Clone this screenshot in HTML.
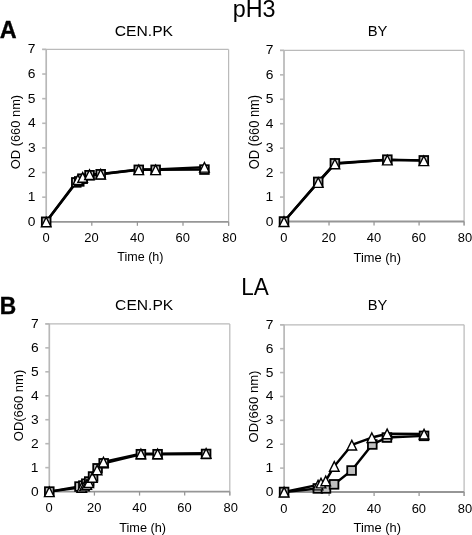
<!DOCTYPE html>
<html><head><meta charset="utf-8"><style>
html,body{margin:0;padding:0;background:#fff;}
svg{display:block;will-change:transform;}
text{font-family:"Liberation Sans", sans-serif;fill:#000;}
</style></head><body>
<svg width="472" height="535" viewBox="0 0 472 535">
<rect width="472" height="535" fill="#fff"/>
<g><line x1="42.20" y1="49.40" x2="228.60" y2="49.40" stroke="#bababa" stroke-width="1.25"/>
<line x1="228.60" y1="49.40" x2="228.60" y2="225.80" stroke="#bababa" stroke-width="1.25"/>
<line x1="46.20" y1="49.40" x2="46.20" y2="221.80" stroke="#b8b8b8" stroke-width="1.7"/>
<line x1="42.20" y1="221.80" x2="46.20" y2="221.80" stroke="#b8b8b8" stroke-width="1.6"/>
<text transform="translate(27.870,225.823) scale(0.13802,0.13400)" font-size="100" font-weight="normal">0</text>
<line x1="42.20" y1="197.17" x2="46.20" y2="197.17" stroke="#b8b8b8" stroke-width="1.6"/>
<text transform="translate(27.697,201.194) scale(0.13802,0.13400)" font-size="100" font-weight="normal">1</text>
<line x1="42.20" y1="172.54" x2="46.20" y2="172.54" stroke="#b8b8b8" stroke-width="1.6"/>
<text transform="translate(27.870,176.633) scale(0.13802,0.13400)" font-size="100" font-weight="normal">2</text>
<line x1="42.20" y1="147.91" x2="46.20" y2="147.91" stroke="#b8b8b8" stroke-width="1.6"/>
<text transform="translate(27.904,151.937) scale(0.13802,0.13400)" font-size="100" font-weight="normal">3</text>
<line x1="42.20" y1="123.29" x2="46.20" y2="123.29" stroke="#b8b8b8" stroke-width="1.6"/>
<text transform="translate(27.904,127.309) scale(0.13802,0.13400)" font-size="100" font-weight="normal">4</text>
<line x1="42.20" y1="98.66" x2="46.20" y2="98.66" stroke="#b8b8b8" stroke-width="1.6"/>
<text transform="translate(27.870,102.613) scale(0.13802,0.13400)" font-size="100" font-weight="normal">5</text>
<line x1="42.20" y1="74.03" x2="46.20" y2="74.03" stroke="#b8b8b8" stroke-width="1.6"/>
<text transform="translate(27.835,78.052) scale(0.13802,0.13400)" font-size="100" font-weight="normal">6</text>
<line x1="42.20" y1="49.40" x2="46.20" y2="49.40" stroke="#b8b8b8" stroke-width="1.6"/>
<text transform="translate(27.870,53.423) scale(0.13802,0.13400)" font-size="100" font-weight="normal">7</text>
<line x1="46.20" y1="221.80" x2="228.60" y2="221.80" stroke="#969696" stroke-width="1.8"/>
<line x1="46.20" y1="221.80" x2="46.20" y2="225.80" stroke="#969696" stroke-width="1.25"/>
<text transform="translate(42.416,241.694) scale(0.12915,0.12300)" font-size="100" font-weight="normal">0</text>
<line x1="91.80" y1="221.80" x2="91.80" y2="225.80" stroke="#969696" stroke-width="1.25"/>
<text transform="translate(84.335,241.694) scale(0.12915,0.12300)" font-size="100" font-weight="normal">20</text>
<line x1="137.40" y1="221.80" x2="137.40" y2="225.80" stroke="#969696" stroke-width="1.25"/>
<text transform="translate(130.097,241.694) scale(0.12915,0.12300)" font-size="100" font-weight="normal">40</text>
<line x1="183.00" y1="221.80" x2="183.00" y2="225.80" stroke="#969696" stroke-width="1.25"/>
<text transform="translate(175.535,241.694) scale(0.12915,0.12300)" font-size="100" font-weight="normal">60</text>
<line x1="228.60" y1="221.80" x2="228.60" y2="225.80" stroke="#969696" stroke-width="1.25"/>
<text transform="translate(222.268,241.694) scale(0.12915,0.12300)" font-size="100" font-weight="normal">80</text>
<polyline points="46.20,221.80 76.30,182.39 79.26,181.41 82.68,178.70 89.52,175.25 100.69,174.27 138.77,169.83 155.64,169.83 204.43,169.59" fill="none" stroke="#000" stroke-width="2.45" stroke-linejoin="round"/>
<polyline points="46.20,221.80 77.89,179.44 82.68,177.22 89.52,174.51 100.69,174.02 138.77,169.59 155.64,169.59 204.43,167.12" fill="none" stroke="#000" stroke-width="2.45" stroke-linejoin="round"/>
<rect x="41.85" y="217.45" width="8.70" height="8.70" fill="#c0c0c0" stroke="#000" stroke-width="1.8"/>
<rect x="71.95" y="178.04" width="8.70" height="8.70" fill="#c0c0c0" stroke="#000" stroke-width="1.8"/>
<rect x="74.91" y="177.06" width="8.70" height="8.70" fill="#c0c0c0" stroke="#000" stroke-width="1.8"/>
<rect x="78.33" y="174.35" width="8.70" height="8.70" fill="#c0c0c0" stroke="#000" stroke-width="1.8"/>
<rect x="85.17" y="170.90" width="8.70" height="8.70" fill="#c0c0c0" stroke="#000" stroke-width="1.8"/>
<rect x="96.34" y="169.92" width="8.70" height="8.70" fill="#c0c0c0" stroke="#000" stroke-width="1.8"/>
<rect x="134.42" y="165.48" width="8.70" height="8.70" fill="#c0c0c0" stroke="#000" stroke-width="1.8"/>
<rect x="151.29" y="165.48" width="8.70" height="8.70" fill="#c0c0c0" stroke="#000" stroke-width="1.8"/>
<rect x="200.08" y="165.24" width="8.70" height="8.70" fill="#c0c0c0" stroke="#000" stroke-width="1.8"/>
<polygon points="46.20,217.20 51.00,226.80 41.40,226.80" fill="#fff" stroke="#000" stroke-width="1.4" stroke-linejoin="miter"/>
<polygon points="77.89,174.84 82.69,184.44 73.09,184.44" fill="#fff" stroke="#000" stroke-width="1.4" stroke-linejoin="miter"/>
<polygon points="82.68,172.62 87.48,182.22 77.88,182.22" fill="#fff" stroke="#000" stroke-width="1.4" stroke-linejoin="miter"/>
<polygon points="89.52,169.91 94.32,179.51 84.72,179.51" fill="#fff" stroke="#000" stroke-width="1.4" stroke-linejoin="miter"/>
<polygon points="100.69,169.42 105.49,179.02 95.89,179.02" fill="#fff" stroke="#000" stroke-width="1.4" stroke-linejoin="miter"/>
<polygon points="138.77,164.99 143.57,174.59 133.97,174.59" fill="#fff" stroke="#000" stroke-width="1.4" stroke-linejoin="miter"/>
<polygon points="155.64,164.99 160.44,174.59 150.84,174.59" fill="#fff" stroke="#000" stroke-width="1.4" stroke-linejoin="miter"/>
<polygon points="204.43,162.52 209.23,172.12 199.63,172.12" fill="#fff" stroke="#000" stroke-width="1.4" stroke-linejoin="miter"/></g><g><line x1="280.00" y1="50.40" x2="464.10" y2="50.40" stroke="#bababa" stroke-width="1.25"/>
<line x1="464.10" y1="50.40" x2="464.10" y2="225.50" stroke="#bababa" stroke-width="1.25"/>
<line x1="284.00" y1="50.40" x2="284.00" y2="221.50" stroke="#b8b8b8" stroke-width="1.7"/>
<line x1="280.00" y1="221.50" x2="284.00" y2="221.50" stroke="#b8b8b8" stroke-width="1.6"/>
<text transform="translate(265.670,225.523) scale(0.13802,0.13400)" font-size="100" font-weight="normal">0</text>
<line x1="280.00" y1="197.06" x2="284.00" y2="197.06" stroke="#b8b8b8" stroke-width="1.6"/>
<text transform="translate(265.497,201.080) scale(0.13802,0.13400)" font-size="100" font-weight="normal">1</text>
<line x1="280.00" y1="172.61" x2="284.00" y2="172.61" stroke="#b8b8b8" stroke-width="1.6"/>
<text transform="translate(265.670,176.704) scale(0.13802,0.13400)" font-size="100" font-weight="normal">2</text>
<line x1="280.00" y1="148.17" x2="284.00" y2="148.17" stroke="#b8b8b8" stroke-width="1.6"/>
<text transform="translate(265.704,152.194) scale(0.13802,0.13400)" font-size="100" font-weight="normal">3</text>
<line x1="280.00" y1="123.73" x2="284.00" y2="123.73" stroke="#b8b8b8" stroke-width="1.6"/>
<text transform="translate(265.704,127.752) scale(0.13802,0.13400)" font-size="100" font-weight="normal">4</text>
<line x1="280.00" y1="99.29" x2="284.00" y2="99.29" stroke="#b8b8b8" stroke-width="1.6"/>
<text transform="translate(265.670,103.242) scale(0.13802,0.13400)" font-size="100" font-weight="normal">5</text>
<line x1="280.00" y1="74.84" x2="284.00" y2="74.84" stroke="#b8b8b8" stroke-width="1.6"/>
<text transform="translate(265.635,78.866) scale(0.13802,0.13400)" font-size="100" font-weight="normal">6</text>
<line x1="280.00" y1="50.40" x2="284.00" y2="50.40" stroke="#b8b8b8" stroke-width="1.6"/>
<text transform="translate(265.670,54.423) scale(0.13802,0.13400)" font-size="100" font-weight="normal">7</text>
<line x1="284.00" y1="221.50" x2="464.10" y2="221.50" stroke="#969696" stroke-width="1.8"/>
<line x1="284.00" y1="221.50" x2="284.00" y2="225.50" stroke="#969696" stroke-width="1.25"/>
<text transform="translate(280.216,242.044) scale(0.12915,0.12300)" font-size="100" font-weight="normal">0</text>
<line x1="329.02" y1="221.50" x2="329.02" y2="225.50" stroke="#969696" stroke-width="1.25"/>
<text transform="translate(321.560,242.044) scale(0.12915,0.12300)" font-size="100" font-weight="normal">20</text>
<line x1="374.05" y1="221.50" x2="374.05" y2="225.50" stroke="#969696" stroke-width="1.25"/>
<text transform="translate(366.747,242.044) scale(0.12915,0.12300)" font-size="100" font-weight="normal">40</text>
<line x1="419.08" y1="221.50" x2="419.08" y2="225.50" stroke="#969696" stroke-width="1.25"/>
<text transform="translate(411.610,242.044) scale(0.12915,0.12300)" font-size="100" font-weight="normal">60</text>
<line x1="464.10" y1="221.50" x2="464.10" y2="225.50" stroke="#969696" stroke-width="1.25"/>
<text transform="translate(457.768,242.044) scale(0.12915,0.12300)" font-size="100" font-weight="normal">80</text>
<polyline points="284.00,221.50 318.22,181.90 334.88,163.33 387.33,159.66 423.80,160.39" fill="none" stroke="#000" stroke-width="2.45" stroke-linejoin="round"/>
<polyline points="284.00,221.50 318.22,182.39 334.88,163.81 387.33,159.90 423.80,160.64" fill="none" stroke="#000" stroke-width="2.45" stroke-linejoin="round"/>
<rect x="279.65" y="217.15" width="8.70" height="8.70" fill="#c0c0c0" stroke="#000" stroke-width="1.8"/>
<rect x="313.87" y="177.55" width="8.70" height="8.70" fill="#c0c0c0" stroke="#000" stroke-width="1.8"/>
<rect x="330.53" y="158.98" width="8.70" height="8.70" fill="#c0c0c0" stroke="#000" stroke-width="1.8"/>
<rect x="382.98" y="155.31" width="8.70" height="8.70" fill="#c0c0c0" stroke="#000" stroke-width="1.8"/>
<rect x="419.45" y="156.04" width="8.70" height="8.70" fill="#c0c0c0" stroke="#000" stroke-width="1.8"/>
<polygon points="284.00,216.90 288.80,226.50 279.20,226.50" fill="#fff" stroke="#000" stroke-width="1.4" stroke-linejoin="miter"/>
<polygon points="318.22,177.79 323.02,187.39 313.42,187.39" fill="#fff" stroke="#000" stroke-width="1.4" stroke-linejoin="miter"/>
<polygon points="334.88,159.21 339.68,168.81 330.08,168.81" fill="#fff" stroke="#000" stroke-width="1.4" stroke-linejoin="miter"/>
<polygon points="387.33,155.30 392.13,164.90 382.53,164.90" fill="#fff" stroke="#000" stroke-width="1.4" stroke-linejoin="miter"/>
<polygon points="423.80,156.04 428.60,165.64 419.00,165.64" fill="#fff" stroke="#000" stroke-width="1.4" stroke-linejoin="miter"/></g><g><line x1="45.30" y1="323.90" x2="229.80" y2="323.90" stroke="#bababa" stroke-width="1.25"/>
<line x1="229.80" y1="323.90" x2="229.80" y2="495.60" stroke="#bababa" stroke-width="1.25"/>
<line x1="49.30" y1="323.90" x2="49.30" y2="491.60" stroke="#b8b8b8" stroke-width="1.7"/>
<line x1="45.30" y1="491.60" x2="49.30" y2="491.60" stroke="#b8b8b8" stroke-width="1.6"/>
<text transform="translate(30.970,495.623) scale(0.13802,0.13400)" font-size="100" font-weight="normal">0</text>
<line x1="45.30" y1="467.64" x2="49.30" y2="467.64" stroke="#b8b8b8" stroke-width="1.6"/>
<text transform="translate(30.797,471.666) scale(0.13802,0.13400)" font-size="100" font-weight="normal">1</text>
<line x1="45.30" y1="443.69" x2="49.30" y2="443.69" stroke="#b8b8b8" stroke-width="1.6"/>
<text transform="translate(30.970,447.776) scale(0.13802,0.13400)" font-size="100" font-weight="normal">2</text>
<line x1="45.30" y1="419.73" x2="49.30" y2="419.73" stroke="#b8b8b8" stroke-width="1.6"/>
<text transform="translate(31.004,423.752) scale(0.13802,0.13400)" font-size="100" font-weight="normal">3</text>
<line x1="45.30" y1="395.77" x2="49.30" y2="395.77" stroke="#b8b8b8" stroke-width="1.6"/>
<text transform="translate(31.004,399.794) scale(0.13802,0.13400)" font-size="100" font-weight="normal">4</text>
<line x1="45.30" y1="371.81" x2="49.30" y2="371.81" stroke="#b8b8b8" stroke-width="1.6"/>
<text transform="translate(30.970,375.770) scale(0.13802,0.13400)" font-size="100" font-weight="normal">5</text>
<line x1="45.30" y1="347.86" x2="49.30" y2="347.86" stroke="#b8b8b8" stroke-width="1.6"/>
<text transform="translate(30.935,351.880) scale(0.13802,0.13400)" font-size="100" font-weight="normal">6</text>
<line x1="45.30" y1="323.90" x2="49.30" y2="323.90" stroke="#b8b8b8" stroke-width="1.6"/>
<text transform="translate(30.970,327.923) scale(0.13802,0.13400)" font-size="100" font-weight="normal">7</text>
<line x1="49.30" y1="491.60" x2="229.80" y2="491.60" stroke="#969696" stroke-width="1.8"/>
<line x1="49.30" y1="491.60" x2="49.30" y2="495.60" stroke="#969696" stroke-width="1.25"/>
<text transform="translate(45.516,511.694) scale(0.12915,0.12300)" font-size="100" font-weight="normal">0</text>
<line x1="94.42" y1="491.60" x2="94.42" y2="495.60" stroke="#969696" stroke-width="1.25"/>
<text transform="translate(86.960,511.694) scale(0.12915,0.12300)" font-size="100" font-weight="normal">20</text>
<line x1="139.55" y1="491.60" x2="139.55" y2="495.60" stroke="#969696" stroke-width="1.25"/>
<text transform="translate(132.247,511.694) scale(0.12915,0.12300)" font-size="100" font-weight="normal">40</text>
<line x1="184.68" y1="491.60" x2="184.68" y2="495.60" stroke="#969696" stroke-width="1.25"/>
<text transform="translate(177.210,511.694) scale(0.12915,0.12300)" font-size="100" font-weight="normal">60</text>
<line x1="229.80" y1="491.60" x2="229.80" y2="495.60" stroke="#969696" stroke-width="1.25"/>
<text transform="translate(223.468,511.694) scale(0.12915,0.12300)" font-size="100" font-weight="normal">80</text>
<polyline points="49.30,491.60 79.53,486.57 83.37,485.61 86.30,483.69 89.24,481.54 93.07,476.51 97.58,468.36 103.68,463.33 140.90,454.23 157.60,454.23 206.11,453.99" fill="none" stroke="#000" stroke-width="2.45" stroke-linejoin="round"/>
<polyline points="49.30,491.60 81.79,487.29 84.50,485.85 86.75,484.41 88.78,482.50 92.39,477.23 97.13,469.80 103.45,461.89 140.90,453.75 157.60,453.75 206.11,453.27" fill="none" stroke="#000" stroke-width="2.45" stroke-linejoin="round"/>
<rect x="44.95" y="487.25" width="8.70" height="8.70" fill="#c0c0c0" stroke="#000" stroke-width="1.8"/>
<rect x="75.18" y="482.22" width="8.70" height="8.70" fill="#c0c0c0" stroke="#000" stroke-width="1.8"/>
<rect x="79.02" y="481.26" width="8.70" height="8.70" fill="#c0c0c0" stroke="#000" stroke-width="1.8"/>
<rect x="81.95" y="479.34" width="8.70" height="8.70" fill="#c0c0c0" stroke="#000" stroke-width="1.8"/>
<rect x="84.89" y="477.19" width="8.70" height="8.70" fill="#c0c0c0" stroke="#000" stroke-width="1.8"/>
<rect x="88.72" y="472.16" width="8.70" height="8.70" fill="#c0c0c0" stroke="#000" stroke-width="1.8"/>
<rect x="93.23" y="464.01" width="8.70" height="8.70" fill="#c0c0c0" stroke="#000" stroke-width="1.8"/>
<rect x="99.33" y="458.98" width="8.70" height="8.70" fill="#c0c0c0" stroke="#000" stroke-width="1.8"/>
<rect x="136.55" y="449.88" width="8.70" height="8.70" fill="#c0c0c0" stroke="#000" stroke-width="1.8"/>
<rect x="153.25" y="449.88" width="8.70" height="8.70" fill="#c0c0c0" stroke="#000" stroke-width="1.8"/>
<rect x="201.76" y="449.64" width="8.70" height="8.70" fill="#c0c0c0" stroke="#000" stroke-width="1.8"/>
<polygon points="49.30,487.00 54.10,496.60 44.50,496.60" fill="#fff" stroke="#000" stroke-width="1.4" stroke-linejoin="miter"/>
<polygon points="81.79,482.69 86.59,492.29 76.99,492.29" fill="#fff" stroke="#000" stroke-width="1.4" stroke-linejoin="miter"/>
<polygon points="84.50,481.25 89.30,490.85 79.70,490.85" fill="#fff" stroke="#000" stroke-width="1.4" stroke-linejoin="miter"/>
<polygon points="86.75,479.81 91.55,489.41 81.95,489.41" fill="#fff" stroke="#000" stroke-width="1.4" stroke-linejoin="miter"/>
<polygon points="88.78,477.90 93.58,487.50 83.98,487.50" fill="#fff" stroke="#000" stroke-width="1.4" stroke-linejoin="miter"/>
<polygon points="92.39,472.63 97.19,482.23 87.59,482.23" fill="#fff" stroke="#000" stroke-width="1.4" stroke-linejoin="miter"/>
<polygon points="97.13,465.20 101.93,474.80 92.33,474.80" fill="#fff" stroke="#000" stroke-width="1.4" stroke-linejoin="miter"/>
<polygon points="103.45,457.29 108.25,466.89 98.65,466.89" fill="#fff" stroke="#000" stroke-width="1.4" stroke-linejoin="miter"/>
<polygon points="140.90,449.15 145.70,458.75 136.10,458.75" fill="#fff" stroke="#000" stroke-width="1.4" stroke-linejoin="miter"/>
<polygon points="157.60,449.15 162.40,458.75 152.80,458.75" fill="#fff" stroke="#000" stroke-width="1.4" stroke-linejoin="miter"/>
<polygon points="206.11,448.67 210.91,458.27 201.31,458.27" fill="#fff" stroke="#000" stroke-width="1.4" stroke-linejoin="miter"/></g><g><line x1="280.10" y1="324.80" x2="464.10" y2="324.80" stroke="#bababa" stroke-width="1.25"/>
<line x1="464.10" y1="324.80" x2="464.10" y2="496.00" stroke="#bababa" stroke-width="1.25"/>
<line x1="284.10" y1="324.80" x2="284.10" y2="492.00" stroke="#b8b8b8" stroke-width="1.7"/>
<line x1="280.10" y1="492.00" x2="284.10" y2="492.00" stroke="#b8b8b8" stroke-width="1.6"/>
<text transform="translate(265.770,496.023) scale(0.13802,0.13400)" font-size="100" font-weight="normal">0</text>
<line x1="280.10" y1="468.11" x2="284.10" y2="468.11" stroke="#b8b8b8" stroke-width="1.6"/>
<text transform="translate(265.597,472.137) scale(0.13802,0.13400)" font-size="100" font-weight="normal">1</text>
<line x1="280.10" y1="444.23" x2="284.10" y2="444.23" stroke="#b8b8b8" stroke-width="1.6"/>
<text transform="translate(265.770,448.319) scale(0.13802,0.13400)" font-size="100" font-weight="normal">2</text>
<line x1="280.10" y1="420.34" x2="284.10" y2="420.34" stroke="#b8b8b8" stroke-width="1.6"/>
<text transform="translate(265.804,424.366) scale(0.13802,0.13400)" font-size="100" font-weight="normal">3</text>
<line x1="280.10" y1="396.46" x2="284.10" y2="396.46" stroke="#b8b8b8" stroke-width="1.6"/>
<text transform="translate(265.804,400.480) scale(0.13802,0.13400)" font-size="100" font-weight="normal">4</text>
<line x1="280.10" y1="372.57" x2="284.10" y2="372.57" stroke="#b8b8b8" stroke-width="1.6"/>
<text transform="translate(265.770,376.527) scale(0.13802,0.13400)" font-size="100" font-weight="normal">5</text>
<line x1="280.10" y1="348.69" x2="284.10" y2="348.69" stroke="#b8b8b8" stroke-width="1.6"/>
<text transform="translate(265.735,352.709) scale(0.13802,0.13400)" font-size="100" font-weight="normal">6</text>
<line x1="280.10" y1="324.80" x2="284.10" y2="324.80" stroke="#b8b8b8" stroke-width="1.6"/>
<text transform="translate(265.770,328.823) scale(0.13802,0.13400)" font-size="100" font-weight="normal">7</text>
<line x1="284.10" y1="492.00" x2="464.10" y2="492.00" stroke="#969696" stroke-width="1.8"/>
<line x1="284.10" y1="492.00" x2="284.10" y2="496.00" stroke="#969696" stroke-width="1.25"/>
<text transform="translate(280.316,512.743) scale(0.12915,0.12300)" font-size="100" font-weight="normal">0</text>
<line x1="329.10" y1="492.00" x2="329.10" y2="496.00" stroke="#969696" stroke-width="1.25"/>
<text transform="translate(321.635,512.743) scale(0.12915,0.12300)" font-size="100" font-weight="normal">20</text>
<line x1="374.10" y1="492.00" x2="374.10" y2="496.00" stroke="#969696" stroke-width="1.25"/>
<text transform="translate(366.797,512.743) scale(0.12915,0.12300)" font-size="100" font-weight="normal">40</text>
<line x1="419.10" y1="492.00" x2="419.10" y2="496.00" stroke="#969696" stroke-width="1.25"/>
<text transform="translate(411.635,512.743) scale(0.12915,0.12300)" font-size="100" font-weight="normal">60</text>
<line x1="464.10" y1="492.00" x2="464.10" y2="496.00" stroke="#969696" stroke-width="1.25"/>
<text transform="translate(457.768,512.743) scale(0.12915,0.12300)" font-size="100" font-weight="normal">80</text>
<polyline points="284.10,492.00 317.85,488.42 325.95,488.42 334.05,484.36 351.60,470.50 372.30,444.47 386.93,437.54 424.05,435.87" fill="none" stroke="#000" stroke-width="2.45" stroke-linejoin="round"/>
<polyline points="284.10,492.00 318.08,484.83 321.00,482.92 325.73,480.77 334.28,466.20 351.83,444.95 371.85,437.54 387.15,433.72 424.05,433.96" fill="none" stroke="#000" stroke-width="2.45" stroke-linejoin="round"/>
<rect x="279.75" y="487.65" width="8.70" height="8.70" fill="#c0c0c0" stroke="#000" stroke-width="1.8"/>
<rect x="313.50" y="484.07" width="8.70" height="8.70" fill="#c0c0c0" stroke="#000" stroke-width="1.8"/>
<rect x="321.60" y="484.07" width="8.70" height="8.70" fill="#c0c0c0" stroke="#000" stroke-width="1.8"/>
<rect x="329.70" y="480.01" width="8.70" height="8.70" fill="#c0c0c0" stroke="#000" stroke-width="1.8"/>
<rect x="347.25" y="466.15" width="8.70" height="8.70" fill="#c0c0c0" stroke="#000" stroke-width="1.8"/>
<rect x="367.95" y="440.12" width="8.70" height="8.70" fill="#c0c0c0" stroke="#000" stroke-width="1.8"/>
<rect x="382.57" y="433.19" width="8.70" height="8.70" fill="#c0c0c0" stroke="#000" stroke-width="1.8"/>
<rect x="419.70" y="431.52" width="8.70" height="8.70" fill="#c0c0c0" stroke="#000" stroke-width="1.8"/>
<polygon points="284.10,487.40 288.90,497.00 279.30,497.00" fill="#fff" stroke="#000" stroke-width="1.4" stroke-linejoin="miter"/>
<polygon points="318.08,480.23 322.88,489.83 313.28,489.83" fill="#fff" stroke="#000" stroke-width="1.4" stroke-linejoin="miter"/>
<polygon points="321.00,478.32 325.80,487.92 316.20,487.92" fill="#fff" stroke="#000" stroke-width="1.4" stroke-linejoin="miter"/>
<polygon points="325.73,476.17 330.53,485.77 320.93,485.77" fill="#fff" stroke="#000" stroke-width="1.4" stroke-linejoin="miter"/>
<polygon points="334.28,461.60 339.08,471.20 329.48,471.20" fill="#fff" stroke="#000" stroke-width="1.4" stroke-linejoin="miter"/>
<polygon points="351.83,440.35 356.63,449.95 347.03,449.95" fill="#fff" stroke="#000" stroke-width="1.4" stroke-linejoin="miter"/>
<polygon points="371.85,432.94 376.65,442.54 367.05,442.54" fill="#fff" stroke="#000" stroke-width="1.4" stroke-linejoin="miter"/>
<polygon points="387.15,429.12 391.95,438.72 382.35,438.72" fill="#fff" stroke="#000" stroke-width="1.4" stroke-linejoin="miter"/>
<polygon points="424.05,429.36 428.85,438.96 419.25,438.96" fill="#fff" stroke="#000" stroke-width="1.4" stroke-linejoin="miter"/></g>
<text transform="translate(-0.334,37.900) scale(0.23358,0.23913)" font-size="100" font-weight="bold" stroke="#000" stroke-width="1.5">A</text>
<text transform="translate(-0.181,313.800) scale(0.22787,0.23043)" font-size="100" font-weight="bold" stroke="#000" stroke-width="1.5">B</text>
<text transform="translate(232.681,16.700) scale(0.23362,0.24286)" font-size="100" font-weight="normal">pH3</text>
<text transform="translate(241.196,294.800) scale(0.22544,0.24058)" font-size="100" font-weight="normal">LA</text>
<text transform="translate(114.716,36.456) scale(0.15683,0.14366)" font-size="100" font-weight="normal">CEN.PK</text>
<text transform="translate(367.716,35.800) scale(0.14797,0.15362)" font-size="100" font-weight="normal">BY</text>
<text transform="translate(115.119,309.754) scale(0.15628,0.14648)" font-size="100" font-weight="normal">CEN.PK</text>
<text transform="translate(367.723,309.900) scale(0.14715,0.15507)" font-size="100" font-weight="normal">BY</text>
<text transform="translate(117.287,261.440) scale(0.12528,0.12193)" font-size="100" font-weight="normal">Time (h)</text>
<text transform="translate(353.578,261.640) scale(0.12861,0.12193)" font-size="100" font-weight="normal">Time (h)</text>
<text transform="translate(119.182,532.440) scale(0.12722,0.12193)" font-size="100" font-weight="normal">Time (h)</text>
<text transform="translate(353.578,532.040) scale(0.12861,0.12193)" font-size="100" font-weight="normal">Time (h)</text>
<text transform="translate(20.262,169.179) rotate(-90) scale(0.12875,0.12086)" font-size="100" font-weight="normal">OD (660 nm)</text>
<text transform="translate(259.480,169.179) rotate(-90) scale(0.12857,0.13904)" font-size="100" font-weight="normal">OD (660 nm)</text>
<text transform="translate(23.062,441.185) rotate(-90) scale(0.12994,0.12086)" font-size="100" font-weight="normal">OD(660 nm)</text>
<text transform="translate(258.084,442.489) rotate(-90) scale(0.13086,0.11979)" font-size="100" font-weight="normal">OD(660 nm)</text>
</svg>
</body></html>
